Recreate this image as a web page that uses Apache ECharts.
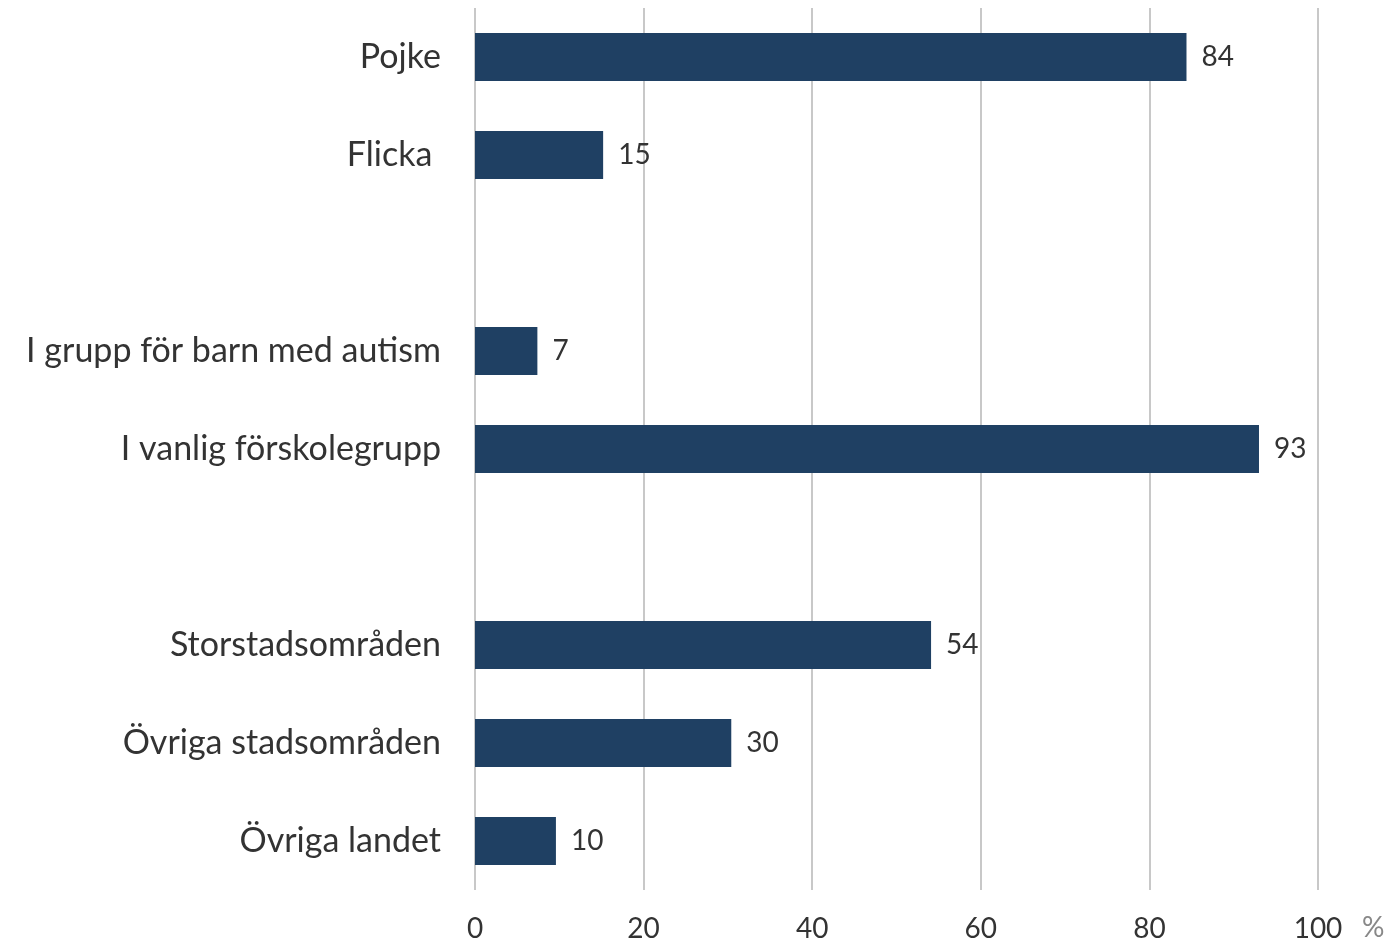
<!DOCTYPE html>
<html>
<head>
<meta charset="utf-8">
<script src="https://cdn.jsdelivr.net/npm/echarts@6/dist/echarts.min.js"></script>
<style>
  html, body { margin: 0; padding: 0; background: #fff; }
  #chart { width: 1390px; height: 946px; }
</style>
</head>
<body>
<div id="chart"></div>
<script>
// categories top to bottom; blank slots separate the groups
const categories = ['Pojke', 'Flicka ', ' ', 'I grupp för barn med autism', 'I vanlig förskolegrupp', '  ', 'Storstadsområden', 'Övriga stadsområden', 'Övriga landet']
const shares = [84.4, 15.2, null, 7.4, 93, null, 54.1, 30.4, 9.6]
const xTicks = [0, 20, 40, 60, 80, 100]

const FONT = 'Lato, "Open Sans", sans-serif'

const chart = echarts.init(document.getElementById('chart'))
chart.setOption({
  animation: false,
  grid: { left: 475, right: 72, top: 8, bottom: 56, containLabel: false },
  xAxis: {
    type: 'value',
    min: xTicks[0],
    max: xTicks[xTicks.length - 1],
    interval: 20,
    axisLine: { show: false },
    axisTick: { show: false },
    axisLabel: { color: '#333', fontSize: 28, fontFamily: FONT, margin: 25 },
    splitLine: { lineStyle: { color: '#c8c8c8', width: 2 } },
  },
  yAxis: {
    type: 'category',
    data: categories,
    inverse: true,
    axisLine: { show: false },
    axisTick: { show: false },
    axisLabel: { color: '#333', fontSize: 34, fontFamily: FONT, margin: 34 },
  },
  series: [{
    type: 'bar',
    data: shares,
    barWidth: 48,
    itemStyle: { color: '#1f4063' },
    label: {
      show: true,
      position: 'right',
      distance: 15,
      color: '#333',
      fontSize: 28,
      fontFamily: FONT,
      formatter: p => Math.round(p.value),
    },
  }],
  graphic: [{
    type: 'text',
    left: 1362,
    top: 914,
    style: { text: '%', fill: '#888', fontSize: 28, fontFamily: FONT },
  }],
})
</script>
</body>
</html>
